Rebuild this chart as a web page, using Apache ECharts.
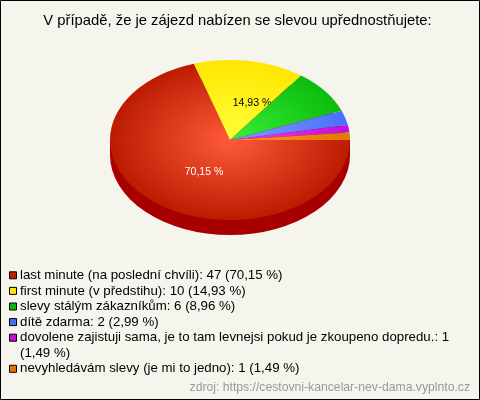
<!DOCTYPE html>
<html><head><meta charset="utf-8">
<style>html,body{margin:0;padding:0;background:#f5f4ed}#c{width:480px;height:400px}</style>
<script src="https://cdn.jsdelivr.net/npm/echarts@6/dist/echarts.min.js"></script>
</head><body><div id="c"></div>
<script>
const titleText = 'V případě, že je zájezd nabízen se slevou upřednostňujete:';
const sourceText = 'zdroj: https://cestovni-kancelar-nev-dama.vyplnto.cz';
const categories = ['last minute (na poslední chvíli)','first minute (v předstihu)','slevy stálým zákazníkům','dítě zdarma','dovolene zajistuji sama, je to tam levnejsi pokud je zkoupeno dopredu.','nevyhledávám slevy (je mi to jedno)'];
const counts = [47,10,6,2,1,1];
const percents = ['70,15','14,93','8,96','2,99','1,49','1,49'];
const innerColors = ['#ff5a3c','#ffff3a','#38f038','#7d9bff','#f03cf0','#ff9a28'];
const outerColors = ['#bb1c00','#ffe600','#0cbc0c','#4a70ff','#c010d8','#e07800'];
const swatchColors = ['#c02000','#ffe600','#0cb90c','#4a70f0','#c010d0','#e07800'];
const sideColor = '#a80000';
const labelOffsets = {0:[-26,32,'#fff'],1:[22,-37,'#000']};
const FONT = '"Liberation Sans", Arial, sans-serif';
const CX=230, CY=140, R=120, SQUASH=2/3, DEPTH=15;
const total = counts.reduce((a,b)=>a+b,0);

function makeSeries(i){
  const before = counts.slice(0,i).reduce((a,b)=>a+b,0);
  return {
    type:'custom', name:categories[i], coordinateSystem:'none', data:[[counts[i]]],
    animation:false, silent:true, clip:false,
    renderItem(params, api){
      const start = before/total*Math.PI*2;
      const end = (before+api.value(0))/total*Math.PI*2;
      const grad = {type:'radial',x:0,y:0,r:R,global:true,colorStops:[{offset:0,color:innerColors[i]},{offset:1,color:outerColors[i]}]};
      const children = [];
      if(i===0){
        children.push({type:'circle',x:CX,y:CY+DEPTH,scaleY:SQUASH,shape:{cx:0,cy:0,r:R},style:{fill:sideColor}});
        children.push({type:'rect',shape:{x:CX-R,y:CY,width:2*R,height:DEPTH},style:{fill:sideColor}});
      }
      children.push({type:'sector',x:CX,y:CY,scaleY:SQUASH,
        shape:{cx:0,cy:0,r0:0,r:R,startAngle:start,endAngle:end,clockwise:true},
        style:{fill:grad}});
      const off = labelOffsets[i];
      if(off){
        children.push({type:'text',x:CX+off[0],y:CY+off[1],
          style:{text:percents[i]+' %',fill:off[2],font:'10.5px '+FONT,align:'center',verticalAlign:'middle'}});
      }
      return {type:'group',children};
    }
  };
}
const legendItem = i => ({name:categories[i],itemStyle:{color:swatchColors[i],borderColor:'#000',borderWidth:1}});
const legendBase = {
  orient:'vertical', left:9, itemWidth:7, itemHeight:7, itemGap:0, padding:0, selectedMode:false,
  icon:'rect', inactiveColor:'#000',
  textStyle:{color:'#000',fontFamily:FONT,fontSize:13.28,lineHeight:15.6,padding:[0,0,0,-1.5]},
  formatter:name=>{const i=categories.indexOf(name);
    return i===4 ? `${name}: ${counts[i]}` : `${name}: ${counts[i]} (${percents[i]} %)`;}
};
const chart = echarts.init(document.getElementById('c'),null,{renderer:'canvas'});
chart.setOption({
  backgroundColor:'#f5f4ed', animation:false,
  title:[
    {text:titleText,left:237.5,textAlign:'center',top:13,padding:0,textStyle:{color:'#000',fontFamily:FONT,fontSize:14.8,fontWeight:'normal'}},
    {text:sourceText,right:10,top:382,padding:0,textStyle:{color:'#999',fontFamily:FONT,fontSize:12.2,fontWeight:'normal'}}
  ],
  legend:[
    Object.assign({},legendBase,{top:267.5,data:[0,1,2,3,4].map(legendItem)}),
    Object.assign({},legendBase,{top:361,data:[5].map(legendItem)})
  ],
  graphic:[
    {type:'rect',silent:true,z:100,shape:{x:.5,y:.5,width:479,height:399},style:{fill:'none',stroke:'#000',lineWidth:1}},
    {type:'text',silent:true,x:20,y:353,style:{text:`(${percents[4]} %)`,fill:'#000',font:'13.28px '+FONT,verticalAlign:'middle'}}
  ],
  series:categories.map((c,i)=>makeSeries(i))
});
</script></body></html>
